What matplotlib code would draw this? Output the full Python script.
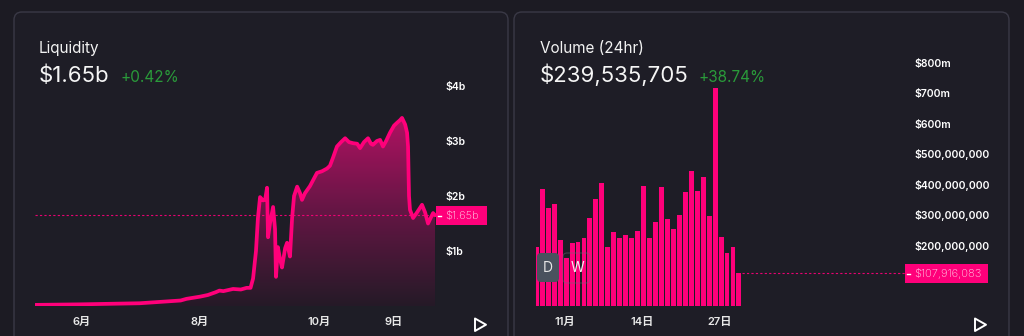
import matplotlib
matplotlib.use('Agg')
import matplotlib.pyplot as plt
import numpy as np
from matplotlib.patches import FancyBboxPatch, Rectangle, Polygon
from matplotlib.lines import Line2D
from matplotlib.colors import LinearSegmentedColormap

# ---------------- data ----------------
liq_days = [0, 23, 54, 75, 78, 85, 89, 93, 95, 97, 102, 106, 109, 111, 112.3, 113.8,
            114.8, 115.9, 117.4, 118.5, 119.5, 120.0, 121.0, 122.6, 123.6, 124.1, 125.1,
            126.2, 127.2, 128.8, 129.8, 131.3, 132.4, 133.4, 135.0, 136.5, 137.5, 139.0,
            141.6, 145.2, 147.8, 150.4, 151.9, 153.5, 155.5, 157.6, 159.7, 161.7, 163.8,
            165.9, 167.4, 169.4, 171.5, 173.0, 174.0, 176.1, 177.7, 179.2, 180.8, 182.8,
            184.9, 186.4, 188.0, 189.0, 190.6, 191.6, 192.1, 192.6, 193.1, 194.7, 196.7,
            199.3, 200.9, 202.4, 204.0, 205.0, 206.0]
liq_values = [0.02, 0.03, 0.05, 0.10, 0.13, 0.17, 0.20, 0.25, 0.28, 0.27, 0.31, 0.30, 0.33,
              0.33, 0.50, 1.00, 1.60, 1.98, 1.92, 1.93, 2.15, 1.25, 1.50, 1.80, 1.40, 0.53,
              1.07, 0.85, 0.70, 1.05, 1.15, 0.90, 1.60, 2.00, 2.17, 2.05, 1.93, 2.05, 2.18,
              2.42, 2.45, 2.50, 2.55, 2.70, 2.90, 2.98, 3.05, 2.98, 2.96, 2.95, 2.87, 2.98,
              3.05, 2.95, 2.93, 3.00, 3.02, 2.90, 3.00, 3.15, 3.28, 3.33, 3.38, 3.42, 3.30,
              3.15, 2.90, 2.00, 1.75, 1.60, 1.70, 1.84, 1.70, 1.50, 1.62, 1.69, 1.65]
liq_current = 1.65
liq_tick_pos = [24.2, 85.0, 146.3, 184.9]
liq_tick_labels = ['6月', '8月', '10月', '9日']
liq_ytick_vals = [1, 2, 3, 4]
liq_ytick_labels = ['$1b', '$2b', '$3b', '$4b']

vol_values = [194, 385, 322, 336, 217, 158, 207, 210, 224, 289, 352, 405, 194, 243, 224,
              234, 224, 247, 395, 224, 276, 391, 286, 253, 299, 375, 444, 378, 424, 296,
              717, 227, 174, 194, 107.916]
vol_current = 107.916
vol_tick_pos = [4.8, 17.7, 30.8]
vol_tick_labels = ['11月', '14日', '27日']
vol_ytick_vals = [200, 300, 400, 500, 600, 700, 800]
vol_ytick_labels = ['$200,000,000', '$300,000,000', '$400,000,000', '$500,000,000',
                    '$600m', '$700m', '$800m']

# ---------------- style ----------------
BG = '#1c1b23'
PANEL = '#1e1d26'
BORDER = '#3a3946'
PINK = '#ff007a'
GREEN = '#2a9a3a'
FONT = ['Inter', 'Noto Sans CJK SC', 'DejaVu Sans']
plt.rcParams['font.family'] = FONT

W, H = 1024, 336
fig = plt.figure(figsize=(W / 100, H / 100), dpi=100)
fig.patch.set_facecolor(BG)
inch = fig.dpi_scale_trans


def X(x):
    return x / 100


def Y(y):
    return (H - y) / 100


def ax_rect(x0, y0, x1, y1):
    return [x0 / W, 1 - y1 / H, (x1 - x0) / W, (y1 - y0) / H]


# panels
for x0, x1 in [(14, 508), (514, 1009)]:
    p = FancyBboxPatch((X(x0), Y(370)), X(x1 - x0), (370 - 12) / 100,
                       boxstyle='round,pad=0,rounding_size=0.08', transform=inch,
                       fc=PANEL, ec=BORDER, lw=1.0, zorder=-5)
    fig.add_artist(p)

# headers
def ftext(x, y, s, **kw):
    fig.text(x / W, 1 - y / H, s, **kw)

ftext(39, 53, 'Liquidity', color='#f2f2f2', fontsize=11, va='baseline')
ftext(39, 82, '$1.65b', color='#f5f5f5', fontsize=16, va='baseline')
ftext(120, 82, '+0.42%', color=GREEN, fontsize=11, va='baseline')
ftext(540, 53, 'Volume (24hr)', color='#f2f2f2', fontsize=11, va='baseline')
ftext(540, 82, '$239,535,705', color='#f5f5f5', fontsize=16, va='baseline')
ftext(699, 82, '+38.74%', color=GREEN, fontsize=11, va='baseline')

# ---------------- liquidity ----------------
ax1 = fig.add_axes(ax_rect(35, 60, 436, 306))
ax1.set_facecolor('none')
ymax1 = (306 - 60) / 55
grad = np.linspace(0, 1, 256).reshape(-1, 1)
cmap = LinearSegmentedColormap.from_list('g', ['#251a27', '#641644', '#b01262'])
im = ax1.imshow(grad, extent=[0, max(liq_days), 0, max(liq_values)], origin='lower',
                aspect='auto', cmap=cmap, zorder=1, interpolation='bilinear')
fb = ax1.fill_between(liq_days, liq_values, 0, color='none', lw=0)
im.set_clip_path(fb.get_paths()[0], transform=ax1.transData)
ax1.plot(liq_days, liq_values, color=PINK, lw=2.7, zorder=3,
         solid_joinstyle='round', solid_capstyle='round')
ax1.axhline(liq_current, color=PINK, lw=0.8, ls=(0, (2, 2)), zorder=2, alpha=0.9)
ax1.set_xlim(0, 206.5)
ax1.set_ylim(0, ymax1)
for s in ax1.spines.values():
    s.set_visible(False)
ax1.yaxis.tick_right()
ax1.set_yticks(liq_ytick_vals, liq_ytick_labels)
ax1.set_xticks(liq_tick_pos, liq_tick_labels)
ax1.tick_params(axis='y', length=0, pad=6.5, labelcolor='white', labelsize=7.5)
ax1.tick_params(axis='x', length=0, pad=8, labelcolor='#e8e8e8', labelsize=8)
for lab in ax1.get_yticklabels() + ax1.get_xticklabels():
    lab.set_fontweight('semibold')

# ---------------- volume ----------------
ax2 = fig.add_axes(ax_rect(536, 50, 905, 306))
ax2.set_facecolor('none')
ppu = 5.96
xr = -0.05 + (905 - 536) / ppu
ax2.bar(np.arange(len(vol_values)), vol_values, width=0.82, color=PINK, lw=0, zorder=2)
ax2.hlines(vol_current, len(vol_values) - 0.55, xr, colors=PINK, lw=0.8,
           linestyles=[(0, (2, 2))], zorder=2, alpha=0.9)
ax2.set_xlim(-0.05, xr)
ax2.set_ylim(0, (306 - 50) / 30.4 * 100)
for s in ax2.spines.values():
    s.set_visible(False)
ax2.yaxis.tick_right()
ax2.set_yticks(vol_ytick_vals, vol_ytick_labels)
ax2.set_xticks(vol_tick_pos, vol_tick_labels)
ax2.tick_params(axis='y', length=0, pad=6.5, labelcolor='white', labelsize=7.5)
ax2.tick_params(axis='x', length=0, pad=8, labelcolor='#e8e8e8', labelsize=8)
for lab in ax2.get_yticklabels() + ax2.get_xticklabels():
    lab.set_fontweight('semibold')

# ---------------- price tags ----------------
def price_tag(x0, x1, y0, y1, text):
    fig.add_artist(Rectangle((X(x0), Y(y1)), X(x1 - x0), (y1 - y0) / 100,
                             transform=inch, fc=PINK, ec='none', zorder=6))
    yc = (y0 + y1) / 2
    fig.add_artist(Line2D([X(x0 + 1.5), X(x0 + 5)], [Y(yc), Y(yc)], transform=inch,
                          color='white', lw=1, zorder=7))
    fig.text(X(x0 + 9), Y(yc), text, transform=inch, color='#ffd6ea', fontsize=8,
             va='center', ha='left', zorder=7, fontweight='light')

price_tag(436, 487, 206, 225, '$1.65b')
price_tag(905, 988, 264, 283, '$107,916,083')

# ---------------- D / W buttons ----------------
fig.add_artist(FancyBboxPatch((X(537), Y(282)), X(22), 29 / 100,
                              boxstyle='round,pad=0,rounding_size=0.04', transform=inch,
                              fc='#4a525e', ec='none', zorder=6))
fig.text(X(548), Y(268), 'D', transform=inch, color='#e6e6e6', fontsize=10,
         ha='center', va='center', zorder=7)
fig.add_artist(FancyBboxPatch((X(563), Y(283)), X(27), 30 / 100,
                              boxstyle='round,pad=0,rounding_size=0.04', transform=inch,
                              fc='none', ec='#6a6f7a', lw=0.8, alpha=0.45, zorder=6))
fig.text(X(577), Y(268), 'W', transform=inch, color='#f0f0f0', fontsize=10,
         ha='center', va='center', zorder=7)

# ---------------- play triangles ----------------
for cx in (480, 980):
    fig.add_artist(Polygon([(X(cx - 5), Y(318.5)), (X(cx - 5), Y(331)), (X(cx + 6), Y(324.7))],
                           closed=True, transform=inch, fill=False, ec='white', lw=1.4,
                           joinstyle='round', zorder=6))

fig.savefig('out.png', dpi=100, facecolor=BG)
